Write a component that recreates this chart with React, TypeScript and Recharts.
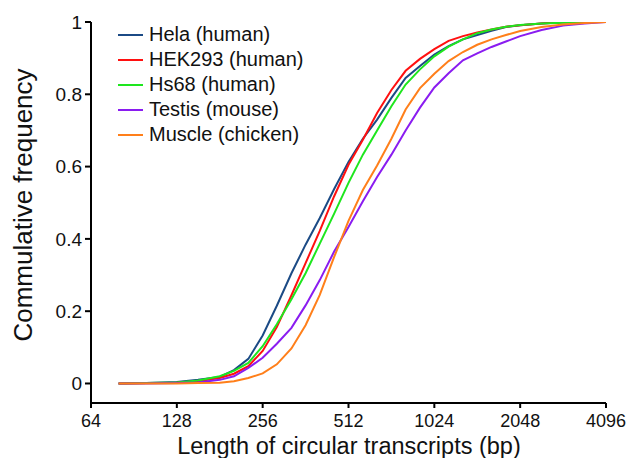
import { LineChart, Line, XAxis, YAxis } from "recharts"

// transcript length (bp), sampled on a log2 grid
const lengths = [
  80, 100, 128, 152, 181, 203, 228, 256, 287, 323, 362, 406, 456, 512, 575, 645, 724, 812, 912, 1024,
  1149, 1290, 1448, 1625, 1825, 2048, 2435, 2896, 3444, 4096,
]

const hela = [
  0, 0.001, 0.004, 0.01, 0.018, 0.037, 0.068, 0.133, 0.215, 0.305, 0.384, 0.458, 0.538, 0.613, 0.677, 0.73,
  0.79, 0.845, 0.878, 0.91, 0.933, 0.952, 0.964, 0.976, 0.986, 0.991, 0.996, 0.999, 1, 1,
]
const hek293 = [
  0, 0.001, 0.002, 0.006, 0.015, 0.027, 0.048, 0.09, 0.156, 0.244, 0.333, 0.422, 0.518, 0.605, 0.674, 0.748,
  0.812, 0.865, 0.898, 0.925, 0.948, 0.961, 0.971, 0.979, 0.987, 0.991, 0.996, 0.999, 1, 1,
]
const hs68 = [
  0, 0.001, 0.003, 0.008, 0.02, 0.035, 0.057, 0.103, 0.164, 0.233, 0.305, 0.387, 0.47, 0.555, 0.633, 0.7,
  0.767, 0.827, 0.869, 0.905, 0.932, 0.952, 0.969, 0.979, 0.987, 0.992, 0.996, 0.998, 1, 1,
]
const testis = [
  0, 0, 0.001, 0.003, 0.01, 0.02, 0.043, 0.071, 0.11, 0.154, 0.216, 0.286, 0.365, 0.433, 0.504, 0.571,
  0.633, 0.7, 0.763, 0.819, 0.858, 0.894, 0.913, 0.931, 0.946, 0.961, 0.978, 0.99, 0.996, 1,
]
const muscle = [
  0, 0, 0, 0.001, 0.002, 0.006, 0.015, 0.028, 0.053, 0.097, 0.161, 0.245, 0.35, 0.45, 0.535, 0.603,
  0.677, 0.758, 0.817, 0.857, 0.892, 0.917, 0.937, 0.952, 0.964, 0.975, 0.986, 0.993, 0.997, 1,
]

const xTicks = [64, 128, 256, 512, 1024, 2048, 4096]
const yTicks = [0, 0.2, 0.4, 0.6, 0.8, 1]

const series = [
  { key: "hela", name: "Hela (human)", color: "#1b4a85" },
  { key: "hek293", name: "HEK293 (human)", color: "#ff1010" },
  { key: "hs68", name: "Hs68 (human)", color: "#1ee61e" },
  { key: "testis", name: "Testis (mouse)", color: "#8a1cf0" },
  { key: "muscle", name: "Muscle (chicken)", color: "#ff7f1a" },
]

const data = lengths.map((len, i) => ({
  len,
  hela: hela[i],
  hek293: hek293[i],
  hs68: hs68[i],
  testis: testis[i],
  muscle: muscle[i],
}))

const FONT = "'Liberation Sans', Arial, sans-serif"

// legend drawn over the plot, top-left (a recharts Legend would eat plot width)
function LegendBox() {
  return (
    <div style={{ position: "absolute", left: 118, top: 22, fontFamily: FONT, fontSize: 20, color: "#111" }}>
      {series.map((s) => (
        <div key={s.key} style={{ display: "flex", alignItems: "center", height: 25, whiteSpace: "nowrap" }}>
          <span style={{ display: "inline-block", width: 25, height: 2, background: s.color, marginRight: 6 }} />
          <span>{s.name}</span>
        </div>
      ))}
    </div>
  )
}

export default function App() {
  return (
    <div style={{ position: "absolute", left: 0, top: 0, width: 627, height: 458, background: "#fff" }}>
      <LineChart
        width={627}
        height={458}
        data={data}
        margin={{ top: 22, right: 21, left: 0, bottom: 0 }}
        style={{ fontFamily: FONT }}
      >
        <XAxis
          dataKey="len"
          type="number"
          scale="log"
          domain={[64, 4096]}
          ticks={xTicks}
          allowDataOverflow
          height={55}
          stroke="#000"
          strokeWidth={2}
          tickSize={5}
          tickMargin={6}
          tick={{ fill: "#111", fontSize: 18 }}
          label={{
            content: () => (
              <text x={349} y={454} textAnchor="middle" fontSize={23.5} fill="#111">
                Length of circular transcripts (bp)
              </text>
            ),
          }}
        />
        <YAxis
          type="number"
          domain={[-0.054, 1]}
          ticks={yTicks}
          allowDataOverflow
          width={91}
          stroke="#000"
          strokeWidth={2}
          tickSize={6}
          tickMargin={3}
          tick={{ fill: "#111", fontSize: 19 }}
          label={{
            content: () => (
              <text
                x={23}
                y={205}
                transform="rotate(-90 23 205)"
                textAnchor="middle"
                dominantBaseline="central"
                fontSize={26}
                fill="#111"
              >
                Commulative frequency
              </text>
            ),
          }}
        />
        {series.map((s) => (
          <Line
            key={s.key}
            type="linear"
            dataKey={s.key}
            name={s.name}
            stroke={s.color}
            strokeWidth={2}
            dot={false}
            isAnimationActive={false}
          />
        ))}
      </LineChart>
      <LegendBox />
    </div>
  )
}
